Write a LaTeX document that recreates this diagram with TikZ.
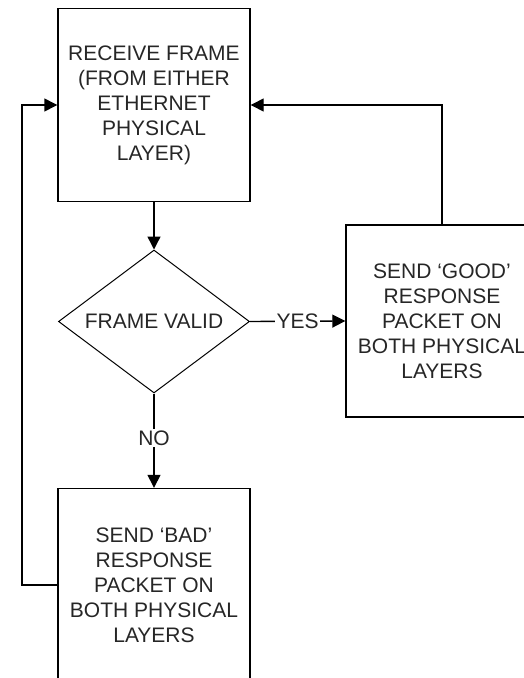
\documentclass[tikz,border=0pt]{standalone}
\usepackage{fontspec}
\setmainfont{Liberation Sans}
\usetikzlibrary{arrows.meta,shapes.geometric}
\begin{document}
\begin{tikzpicture}[x=1pt,y=-1pt,
  txt/.style={font=\fontsize{21}{25}\selectfont, text=black!85},
  box/.style={draw, line width=1.4pt, minimum width=192pt, minimum height=193pt, align=center, inner sep=0pt, txt},
  dec/.style={draw, diamond, aspect=1.336, line width=1pt, minimum width=191pt, minimum height=143pt, inner sep=0pt, txt},
  arr/.style={line width=1.4pt, -{Triangle[length=13pt,width=13pt]}},
  lbl/.style={fill=white, inner sep=1.5pt, txt}]
\useasboundingbox (0,0) rectangle (524,678);
\clip (0,0) rectangle (524,678);
\node[box] (recv) at (154,105) {RECEIVE FRAME\\(FROM EITHER\\ETHERNET\\PHYSICAL\\LAYER)};
\node[dec] (valid) at (154,321.5) {FRAME VALID};
\node[box, minimum height=192pt] (good) at (442,321) {SEND `GOOD'\\RESPONSE\\PACKET ON\\BOTH PHYSICAL\\LAYERS};
\node[box] (bad) at (154,585) {SEND `BAD'\\RESPONSE\\PACKET ON\\BOTH PHYSICAL\\LAYERS};
\coordinate (lc) at (22,585);
\draw[arr] (recv.south) -- (valid.north);
\draw[arr] (valid.east) -- node[lbl] {YES} (good.west);
\draw[arr] (valid.south) -- node[lbl, pos=0.47] {NO} (bad.north);
\draw[arr] (good.north) |- (recv.east);
\draw[arr] (bad.west) -- (lc) |- (recv.west);
\end{tikzpicture}
\end{document}
